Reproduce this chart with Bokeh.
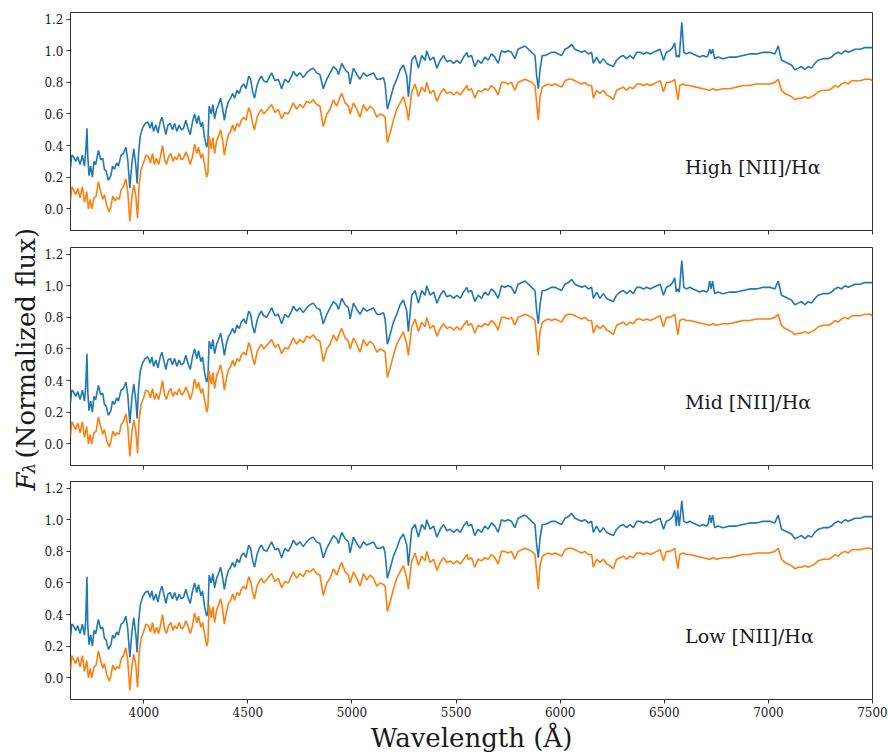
import math
from bokeh.plotting import figure
from bokeh.layouts import row, column
from bokeh.models import Range1d, FixedTicker, PrintfTickFormatter
from bokeh.core.properties import value
from bokeh.embed import file_html
from bokeh.resources import INLINE

# ---------------- data ----------------
# blue spectrum continuum (wavelength in Angstrom, normalized flux)
blue_cont = [
    (3648,0.26),(3654,0.34),(3662,0.33),(3673,0.30),(3683,0.33),(3694,0.28),(3705,0.34),(3715,0.27),
    (3721,0.36),(3731,0.33),(3737,0.21),(3745,0.27),(3753,0.20),(3761,0.30),(3769,0.28),(3782,0.37),
    (3793,0.31),(3803,0.32),(3811,0.25),(3819,0.24),(3830,0.18),(3842,0.21),(3850,0.27),(3859,0.25),
    (3870,0.29),(3878,0.27),(3891,0.34),(3902,0.35),(3914,0.39),(3923,0.31),(3933,0.13),(3943,0.29),
    (3952,0.38),(3962,0.27),(3968,0.16),(3975,0.35),(3983,0.46),(3994,0.51),(4007,0.54),(4019,0.55),
    (4031,0.51),(4039,0.55),(4047,0.49),(4058,0.53),(4068,0.48),(4079,0.55),(4087,0.58),(4098,0.52),
    (4106,0.47),(4116,0.53),(4127,0.54),(4138,0.50),(4148,0.54),(4159,0.49),(4170,0.53),(4180,0.50),
    (4191,0.51),(4202,0.56),(4212,0.51),(4223,0.47),(4234,0.55),(4244,0.60),(4255,0.54),(4263,0.59),
    (4274,0.52),(4282,0.55),(4292,0.45),(4302,0.39),(4308,0.42),(4314,0.65),(4324,0.60),(4332,0.66),
    (4340,0.57),(4350,0.63),(4359,0.66),(4369,0.70),(4379,0.63),(4387,0.56),(4396,0.63),(4407,0.68),
    (4417,0.70),(4427,0.73),(4436,0.70),(4448,0.75),(4459,0.73),(4468,0.77),(4480,0.79),(4491,0.76),
    (4504,0.84),(4513,0.82),(4523,0.74),(4532,0.70),(4544,0.78),(4555,0.82),(4565,0.84),(4576,0.81),
    (4590,0.80),(4614,0.86),(4630,0.81),(4646,0.82),(4662,0.76),(4678,0.82),(4694,0.80),(4710,0.84),
    (4718,0.87),(4734,0.84),(4750,0.86),(4766,0.83),(4782,0.86),(4798,0.88),(4814,0.89),(4830,0.86),
    (4846,0.85),(4862,0.76),(4879,0.82),(4895,0.86),(4911,0.90),(4927,0.88),(4935,0.85),(4951,0.92),
    (4967,0.88),(4983,0.86),(4991,0.79),(5007,0.89),(5023,0.85),(5039,0.82),(5055,0.86),(5071,0.84),
    (5087,0.85),(5103,0.86),(5119,0.82),(5135,0.82),(5151,0.83),(5159,0.79),(5170,0.63),(5183,0.69),
    (5199,0.77),(5215,0.82),(5231,0.88),(5247,0.91),(5263,0.84),(5271,0.71),(5287,0.94),(5303,0.97),
    (5319,0.89),(5335,0.97),(5351,0.94),(5359,1.00),(5375,0.94),(5392,0.96),(5408,0.89),(5424,0.94),
    (5440,0.97),(5456,0.93),(5472,0.94),(5488,0.92),(5504,0.94),(5520,0.92),(5536,0.96),(5552,0.99),
    (5558,0.96),(5574,0.97),(5590,0.90),(5606,0.94),(5622,0.92),(5638,0.96),(5654,0.94),(5670,0.98),
    (5686,0.96),(5702,0.92),(5718,1.00),(5734,0.99),(5750,1.00),(5766,0.99),(5782,0.95),(5798,1.01),
    (5815,1.02),(5831,1.03),(5847,1.01),(5863,0.99),(5879,0.97),(5887,0.84),(5895,0.76),(5903,0.88),
    (5914,0.97),(5927,0.97),(5943,0.98),(5959,0.99),(5975,0.99),(5991,0.98),(6007,0.97),(6023,1.01),
    (6039,1.02),(6055,1.04),(6071,1.01),(6087,1.00),(6103,0.99),(6119,1.00),(6135,0.98),(6151,0.99),
    (6159,0.92),(6175,0.96),(6191,0.92),(6207,0.95),(6223,0.92),(6239,0.91),(6255,0.90),(6271,0.94),
    (6287,0.96),(6303,0.97),(6319,0.95),(6335,0.97),(6351,0.95),(6368,0.99),(6384,0.99),(6400,0.98),
    (6416,0.99),(6432,0.98),(6448,0.99),(6464,1.00),(6480,1.01),(6496,0.94),(6510,0.99),(6526,1.00),
    (6540,1.02),(6558,0.96),(6572,0.96),(6594,0.99),(6606,0.98),(6622,0.99),(6638,0.98),(6654,0.97),
    (6670,0.96),(6686,0.97),(6702,0.96),(6710,0.97),(6725,0.98),(6742,0.95),(6758,0.96),(6782,0.95),
    (6814,0.96),(6846,0.96),(6878,0.97),(6910,0.98),(6943,0.98),(6975,0.99),(7007,0.99),(7031,0.98),
    (7047,1.03),(7063,0.94),(7079,0.93),(7095,0.92),(7111,0.91),(7127,0.88),(7143,0.89),(7159,0.90),
    (7175,0.88),(7191,0.90),(7207,0.89),(7223,0.92),(7239,0.94),(7263,0.95),(7287,0.95),(7303,0.96),
    (7319,0.98),(7335,0.99),(7351,0.98),(7368,1.00),(7384,0.99),(7400,1.00),(7416,1.01),(7440,1.01),
    (7464,1.02),(7488,1.02),(7500,1.02),
]

# emission-line points of the blue spectrum, one list per panel
line_wave = [3727, 6550, 6564, 6584, 6718, 6732]
line_flux_high = [0.51, 1.05, 0.97, 1.18, 1.01, 1.01]
line_flux_mid = [0.57, 1.05, 0.98, 1.16, 1.03, 1.03]
line_flux_low = [0.64, 1.06, 1.06, 1.12, 1.03, 1.03]

# orange spectrum
orange_spec = [
    (3648,0.05),(3654,0.14),(3662,0.12),(3673,0.09),(3683,0.13),(3694,0.07),(3705,0.14),(3715,0.04),
    (3726,0.11),(3734,0.00),(3742,0.06),(3750,0.00),(3761,0.07),(3771,0.08),(3782,0.17),(3793,0.11),
    (3803,0.06),(3811,0.09),(3822,0.02),(3834,-0.02),(3843,0.02),(3851,0.08),(3862,0.05),(3870,0.07),
    (3882,0.06),(3891,0.12),(3902,0.14),(3914,0.19),(3923,0.11),(3933,-0.08),(3943,0.08),(3952,0.15),
    (3962,0.08),(3970,-0.06),(3978,0.16),(3987,0.25),(3999,0.29),(4010,0.34),(4023,0.33),(4032,0.29),
    (4042,0.35),(4051,0.28),(4061,0.32),(4071,0.28),(4080,0.33),(4090,0.40),(4100,0.31),(4109,0.28),
    (4119,0.33),(4130,0.35),(4140,0.30),(4149,0.33),(4159,0.31),(4170,0.35),(4180,0.31),(4191,0.32),
    (4202,0.36),(4212,0.33),(4223,0.28),(4234,0.33),(4244,0.41),(4255,0.35),(4263,0.39),(4274,0.32),
    (4282,0.35),(4292,0.28),(4302,0.20),(4308,0.23),(4314,0.46),(4324,0.38),(4332,0.45),(4340,0.35),
    (4350,0.43),(4359,0.46),(4369,0.50),(4379,0.43),(4387,0.34),(4396,0.41),(4407,0.47),(4417,0.49),
    (4427,0.53),(4436,0.49),(4448,0.54),(4459,0.52),(4468,0.56),(4480,0.58),(4491,0.56),(4504,0.64),
    (4513,0.61),(4523,0.54),(4532,0.50),(4544,0.58),(4555,0.61),(4565,0.63),(4576,0.60),(4590,0.62),
    (4614,0.66),(4630,0.61),(4646,0.63),(4662,0.57),(4678,0.61),(4694,0.60),(4718,0.67),(4734,0.63),
    (4750,0.66),(4766,0.64),(4782,0.68),(4798,0.67),(4814,0.69),(4830,0.66),(4846,0.65),(4862,0.52),
    (4879,0.60),(4895,0.63),(4911,0.69),(4927,0.65),(4943,0.71),(4951,0.73),(4967,0.67),(4983,0.65),
    (4991,0.60),(5007,0.67),(5023,0.63),(5039,0.58),(5055,0.66),(5071,0.62),(5087,0.65),(5103,0.63),
    (5119,0.58),(5135,0.60),(5151,0.59),(5159,0.58),(5170,0.42),(5183,0.48),(5199,0.56),(5215,0.63),
    (5231,0.67),(5247,0.71),(5263,0.63),(5271,0.56),(5287,0.74),(5303,0.79),(5319,0.71),(5335,0.77),
    (5351,0.74),(5359,0.80),(5375,0.73),(5392,0.75),(5408,0.68),(5424,0.73),(5440,0.76),(5456,0.73),
    (5472,0.74),(5488,0.72),(5504,0.74),(5520,0.72),(5536,0.75),(5552,0.78),(5558,0.75),(5574,0.76),
    (5590,0.70),(5606,0.75),(5622,0.74),(5638,0.76),(5654,0.75),(5670,0.78),(5686,0.76),(5702,0.72),
    (5718,0.80),(5734,0.80),(5750,0.79),(5766,0.80),(5782,0.75),(5798,0.80),(5815,0.81),(5831,0.82),
    (5847,0.81),(5863,0.80),(5879,0.78),(5887,0.67),(5895,0.56),(5903,0.71),(5914,0.77),(5927,0.78),
    (5943,0.79),(5959,0.78),(5975,0.79),(5991,0.78),(6007,0.77),(6023,0.81),(6039,0.82),(6055,0.82),
    (6071,0.81),(6087,0.80),(6103,0.79),(6119,0.80),(6135,0.78),(6151,0.78),(6159,0.70),(6175,0.75),
    (6191,0.73),(6207,0.75),(6223,0.72),(6239,0.71),(6255,0.69),(6271,0.75),(6287,0.76),(6303,0.77),
    (6319,0.75),(6335,0.77),(6351,0.76),(6368,0.79),(6384,0.79),(6400,0.78),(6416,0.79),(6432,0.78),
    (6448,0.79),(6464,0.80),(6480,0.81),(6496,0.74),(6510,0.80),(6526,0.80),(6542,0.81),(6550,0.82),
    (6558,0.75),(6566,0.69),(6574,0.78),(6590,0.79),(6606,0.78),(6622,0.78),(6654,0.77),(6686,0.76),
    (6718,0.75),(6734,0.76),(6750,0.75),(6782,0.76),(6814,0.76),(6846,0.77),(6878,0.78),(6910,0.78),
    (6943,0.79),(6975,0.79),(7007,0.79),(7031,0.80),(7047,0.82),(7063,0.75),(7079,0.73),(7095,0.72),
    (7111,0.71),(7127,0.69),(7143,0.70),(7159,0.70),(7175,0.71),(7191,0.70),(7207,0.71),(7223,0.72),
    (7239,0.74),(7263,0.75),(7287,0.75),(7303,0.76),(7319,0.78),(7335,0.77),(7351,0.79),(7368,0.80),
    (7384,0.79),(7400,0.81),(7440,0.81),(7464,0.82),(7488,0.82),(7500,0.81),
]

panel_labels = ["High [NII]/H\u03b1", "Mid [NII]/H\u03b1", "Low [NII]/H\u03b1"]
panel_lines = [line_flux_high, line_flux_mid, line_flux_low]
x_ticks = [4000, 4500, 5000, 5500, 6000, 6500, 7000, 7500]
y_ticks = [0.0, 0.2, 0.4, 0.6, 0.8, 1.0, 1.2]

BLUE = "#1f77b4"
ORANGE = "#ff7f0e"
SERIF = "DejaVu Serif"

LABEL_W = 40
FRAME_W = 802
FRAME_H = 218


def make_panel(line_flux, label, top_border, bottom_border, show_xlabels):
    pts = sorted(blue_cont + list(zip(line_wave, line_flux)))
    bw = [a for a, b in pts]
    bf = [b for a, b in pts]
    ow = [a for a, b in orange_spec]
    of = [b for a, b in orange_spec]

    p = figure(frame_width=FRAME_W, frame_height=FRAME_H,
               x_range=Range1d(3648, 7500), y_range=Range1d(-0.137, 1.242),
               output_backend="svg", toolbar_location=None,
               min_border_left=70 - LABEL_W, min_border_right=16,
               min_border_top=top_border, min_border_bottom=bottom_border,
               background_fill_color="white", border_fill_color="white")
    p.line(bw, bf, line_color=BLUE, line_width=1.6)
    p.line(ow, of, line_color=ORANGE, line_width=1.6)
    p.text(x=[6600], y=[0.265], text=[label], text_font=value(SERIF),
           text_font_size="19px", text_align="left", text_baseline="alphabetic",
           text_color="#1a1a1a")

    p.xgrid.visible = False
    p.ygrid.visible = False
    p.outline_line_color = "#333333"
    p.outline_line_width = 1
    p.outline_line_alpha = 1

    for ax in (p.xaxis[0], p.yaxis[0]):
        ax.axis_line_color = None
        ax.major_tick_in = 0
        ax.major_tick_out = 4
        ax.major_tick_line_color = "#333333"
        ax.minor_tick_line_color = None
        ax.major_label_text_font = SERIF
        ax.major_label_text_font_size = "12px"
        ax.major_label_text_color = "#1a1a1a"
        ax.major_label_standoff = 3

    p.xaxis.ticker = FixedTicker(ticks=x_ticks)
    p.yaxis.ticker = FixedTicker(ticks=y_ticks)
    p.yaxis.formatter = PrintfTickFormatter(format="%.1f")

    if show_xlabels:
        p.xaxis.axis_label = "Wavelength (\u00c5)"
        p.xaxis.axis_label_text_font = SERIF
        p.xaxis.axis_label_text_font_size = "26px"
        p.xaxis.axis_label_text_font_style = "normal"
        p.xaxis.axis_label_text_color = "#1a1a1a"
        p.xaxis.axis_label_standoff = 3
    else:
        # tick marks only, no tick labels on the upper panels
        p.xaxis.major_label_text_font_size = "0px"
        p.xaxis.major_label_text_color = None
        p.xaxis.major_label_standoff = 0
    return p


p_top = make_panel(panel_lines[0], panel_labels[0], 12, 8, False)
p_mid = make_panel(panel_lines[1], panel_labels[1], 9, 8, False)
p_bot = make_panel(panel_lines[2], panel_labels[2], 8, 55, True)

# narrow figure holding the shared y-axis title
TOTAL_H = 754
lab = figure(width=LABEL_W, height=TOTAL_H, x_range=Range1d(0, LABEL_W),
             y_range=Range1d(0, TOTAL_H), output_backend="svg",
             toolbar_location=None, min_border=0, x_axis_type=None,
             y_axis_type=None, outline_line_color=None,
             background_fill_color="white", border_fill_color="white")
lab.xgrid.visible = False
lab.ygrid.visible = False
rot = math.pi / 2
lab.text(x=[25], y=[TOTAL_H - 490], text=["F"], angle=rot,
         text_font=value(SERIF), text_font_size="26px", text_font_style="italic",
         text_align="left", text_baseline="alphabetic", text_color="#1a1a1a")
lab.text(x=[28], y=[TOTAL_H - 473], text=["\u03bb"], angle=rot,
         text_font=value(SERIF), text_font_size="17px", text_font_style="italic",
         text_align="left", text_baseline="alphabetic", text_color="#1a1a1a")
lab.text(x=[25], y=[TOTAL_H - 458], text=["(Normalized flux)"], angle=rot,
         text_font=value(SERIF), text_font_size="26px",
         text_align="left", text_baseline="alphabetic", text_color="#1a1a1a")

layout = row(lab, column(p_top, p_mid, p_bot, spacing=0), spacing=0)

open("out.html", "w").write(file_html(layout, INLINE))
